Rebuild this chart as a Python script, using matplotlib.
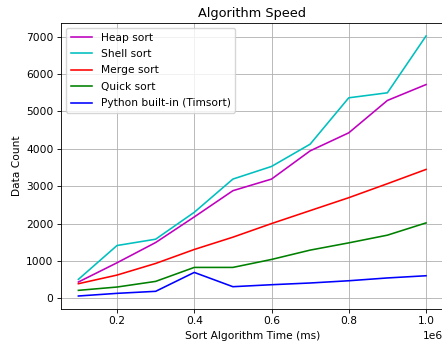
import numpy as np
import matplotlib
matplotlib.use('Agg')
import matplotlib.pyplot as plt

# data
n = [100000, 200000, 300000, 400000, 500000, 600000, 700000, 800000, 900000, 1000000]
heap = [436, 951, 1493, 2178, 2880, 3191, 3946, 4429, 5295, 5720]
shell = [507, 1413, 1582, 2302, 3191, 3529, 4125, 5366, 5500, 7020]
merge = [391, 622, 933, 1307, 1636, 2000, 2347, 2693, 3067, 3449]
quick = [213, 302, 453, 827, 827, 1040, 1290, 1484, 1690, 2018]
timsort = [62, 133, 187, 693, 311, 364, 410, 470, 545, 604]

s = 0.77
plt.rcParams['font.size'] = 10 * s

fig = plt.figure(figsize=(4.42, 3.43), dpi=100)
ax = fig.add_axes([61/442, 34/343, 382.4/442, 286/343])

lw = 1.5 * s
ax.plot(n, heap, 'm-', lw=lw, label='Heap sort')
ax.plot(n, shell, 'c-', lw=lw, label='Shell sort')
ax.plot(n, merge, 'r-', lw=lw, label='Merge sort')
ax.plot(n, quick, 'g-', lw=lw, label='Quick sort')
ax.plot(n, timsort, 'b-', lw=lw, label='Python built-in (Timsort)')

ax.set_title('Algorithm Speed', fontsize=12 * s, pad=6 * s)
ax.set_xlabel('Sort Algorithm Time (ms)', labelpad=4 * s)
ax.set_ylabel('Data Count', labelpad=4 * s)
ax.tick_params(length=3.5 * s, width=0.8 * s, pad=3.5 * s)
for sp in ax.spines.values():
    sp.set_linewidth(0.8 * s)
ax.grid(lw=0.8 * s)
ax.legend(loc='upper left', handlelength=2.0, borderpad=0.4, labelspacing=0.6)

plt.savefig('out.png', dpi=100)
